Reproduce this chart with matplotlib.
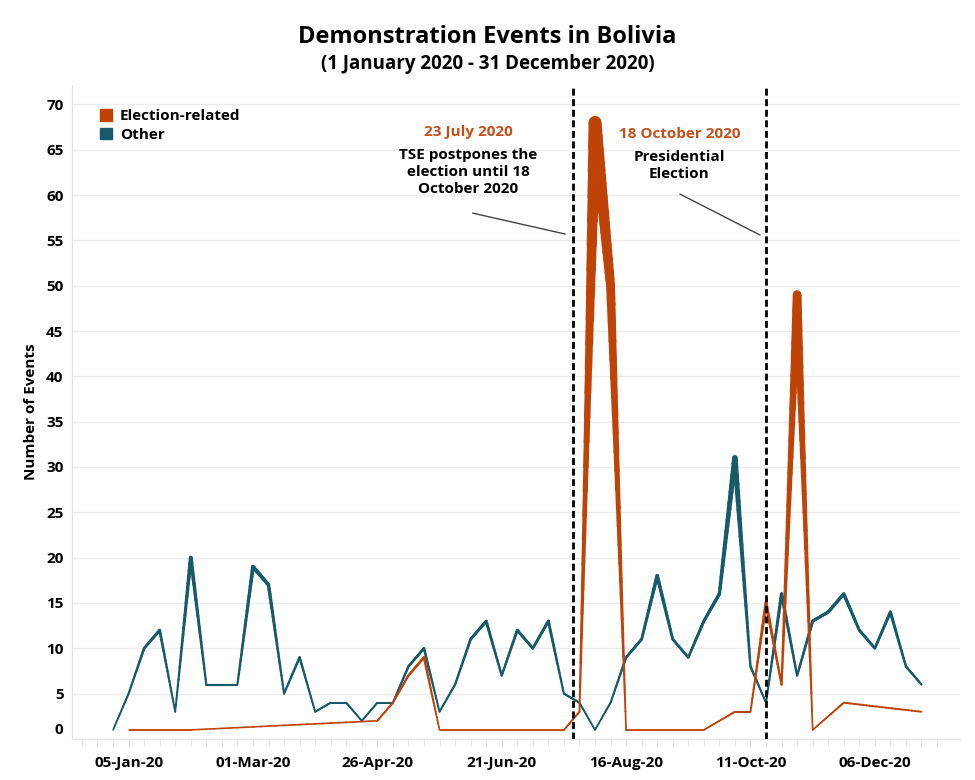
import numpy as np
import pandas as pd
import matplotlib
matplotlib.use('Agg')
import matplotlib.pyplot as plt
import matplotlib.dates as mdates
import matplotlib.transforms as mtransforms
from matplotlib.collections import LineCollection
from matplotlib.patches import Patch

plt.rcParams['font.family'] = ['Open Sans', 'DejaVu Sans']
plt.rcParams['font.weight'] = 'bold'
plt.rcParams['axes.labelweight'] = 'bold'

# weekly counts, weeks starting 29-Dec-2019
weeks = pd.date_range('2019-12-29', periods=53, freq='7D')
other = [1, 5, 10, 12, 3, 20, 6, 6, 6, 19, 17, 5, 9, 3, 4, 4, 2, 4, 4, 8, 10, 3, 6,
         11, 13, 7, 12, 10, 13, 5, 4, 1, 4, 9, 11, 18, 11, 9, 13, 16, 31, 8, 4, 16,
         7, 13, 14, 16, 12, 10, 14, 8, 6]
election = [None, 1, 1, 1, 1, 1, None, None, None, None, None, None, None, None,
            None, None, None, 2, 4, 7, 9, 1, 1, 1, 1, 1, 1, 1, 1, 1, 3, 68, 50,
            1, 1, 1, 1, 1, 1, None, 3, 3, 15, 6, 49, 1, None, 4, None, None, None,
            None, 3]

events = ['2020-07-23', '2020-10-18']
event_dates = ['23 July 2020', '18 October 2020']
event_texts = ['TSE postpones the\nelection until 18\nOctober 2020', 'Presidential\nElection']

orange = '#bf4206'
teal = '#175a6c'


def width(v):
    px = 1.5 + 0.1 * v + 0.001 * v ** 2
    return px * 72 / 100


def draw_series(ax, dates, values, color, z):
    x = mdates.date2num(pd.DatetimeIndex(dates).to_pydatetime())
    y = np.array(values, dtype=float)
    segs, lws = [], []
    for i in range(len(x) - 1):
        t = np.linspace(0, 1, 25)
        xs = x[i] + (x[i + 1] - x[i]) * t
        ys = y[i] + (y[i + 1] - y[i]) * t
        for j in range(len(t) - 1):
            segs.append([(xs[j], ys[j]), (xs[j + 1], ys[j + 1])])
            lws.append(width((ys[j] + ys[j + 1]) / 2))
    lc = LineCollection(segs, linewidths=lws, colors=color, capstyle='round',
                        joinstyle='round', zorder=z)
    ax.add_collection(lc)


fig = plt.figure(figsize=(9.75, 7.8), dpi=100)
ax = fig.add_axes([0.0738, 0.0526, 0.9108, 0.838])

draw_series(ax, list(weeks), other, teal, 3)
el = [(d, v) for d, v in zip(weeks, election) if v is not None]
draw_series(ax, [d for d, v in el], [v for d, v in el], orange, 4)

ax.set_xlim(mdates.date2num(pd.Timestamp('2019-12-10 12:00')),
            mdates.date2num(pd.Timestamp('2021-01-13 08:00')))
ax.set_ylim(0, 72.1)

ax.set_yticks(range(0, 71, 5))
ax.yaxis.grid(True, color='#ececec', lw=1)
ax.set_axisbelow(True)
ax.tick_params(axis='y', length=0, labelsize=11, pad=6)

major = pd.date_range('2020-01-05', periods=7, freq='56D')
minor = pd.date_range('2019-12-15', '2021-01-03', freq='7D')
ax.set_xticks(mdates.date2num(major))
ax.set_xticks(mdates.date2num(minor), minor=True)
ax.xaxis.set_major_formatter(mdates.DateFormatter('%d-%b-%y'))
ax.tick_params(axis='x', which='both', length=5, color='#e0e0e0', labelsize=11, pad=7)

# the zero label sits a little above the axis line
t0lab = ax.yaxis.get_major_ticks()[0].label1
t0lab.set_transform(t0lab.get_transform() +
                    mtransforms.ScaledTranslation(0, 10 / 100, fig.dpi_scale_trans))

for s in ['top', 'right']:
    ax.spines[s].set_visible(False)
for s in ['left', 'bottom']:
    ax.spines[s].set_color('#e3e3e3')

ax.set_ylabel('Number of Events', fontsize=11, labelpad=6)

for d in events:
    ax.axvline(mdates.date2num(pd.Timestamp(d)), color='black', lw=2,
               dashes=(2.5, 1.3), zorder=5)

# annotations
t0 = pd.Timestamp('2020-01-05')
ax.text(t0 + pd.Timedelta(days=153), 66.9, event_dates[0], color='#c4501a',
        ha='center', va='center', fontsize=11)
ax.text(t0 + pd.Timedelta(days=153), 65.2, event_texts[0], color='black',
        ha='center', va='top', fontsize=11, linespacing=1.3)
ax.plot([t0 + pd.Timedelta(days=155), t0 + pd.Timedelta(days=196.5)], [58.0, 55.7],
        color='#444444', lw=1)

ax.text(t0 + pd.Timedelta(days=248), 66.7, event_dates[1], color='#c4501a',
        ha='center', va='center', fontsize=11)
ax.text(t0 + pd.Timedelta(days=248), 65.0, event_texts[1], color='black',
        ha='center', va='top', fontsize=11, linespacing=1.3)
ax.plot([t0 + pd.Timedelta(days=248.3), t0 + pd.Timedelta(days=284.2)], [60.1, 55.6],
        color='#444444', lw=1)

handles = [Patch(color=orange, label='Election-related'), Patch(color=teal, label='Other')]
ax.legend(handles=handles, loc='upper left', bbox_to_anchor=(0.016, 0.985), frameon=False,
          fontsize=11, handlelength=0.8, handleheight=0.8, handletextpad=0.5,
          labelspacing=0.3)

fig.text(0.5, 0.953, 'Demonstration Events in Bolivia', ha='center', va='center', fontsize=17)
fig.text(0.5, 0.918, '(1 January 2020 - 31 December 2020)', ha='center', va='center',
         fontsize=13.5)

fig.savefig('out.png', dpi=100)
